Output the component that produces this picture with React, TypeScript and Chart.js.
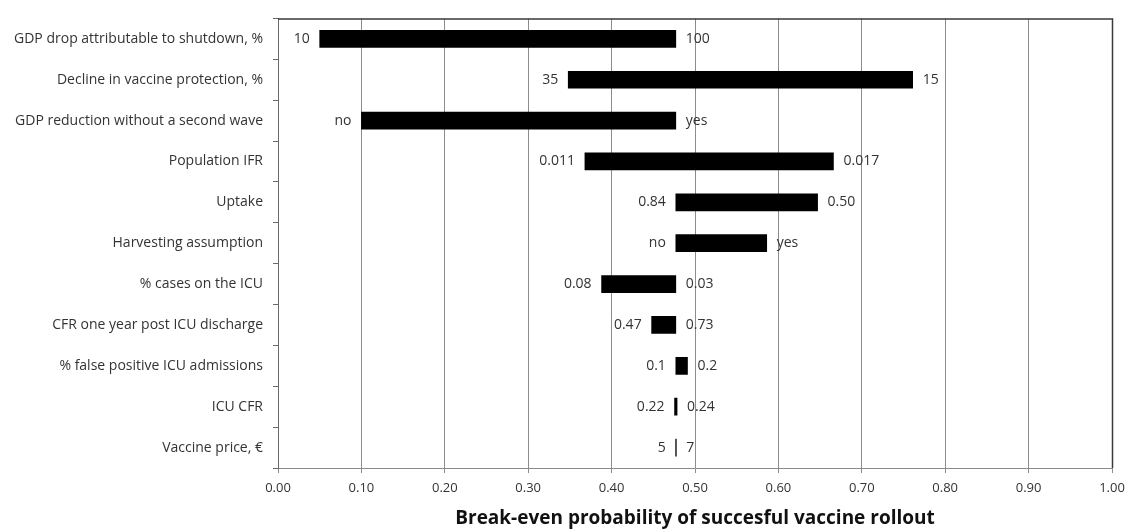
import React, { useEffect, useRef } from "react";
import { Chart, registerables } from "chart.js";

Chart.register(...registerables);

const categories = [
  "GDP drop attributable to shutdown, %",
  "Decline in vaccine protection, %",
  "GDP reduction without a second wave",
  "Population IFR",
  "Uptake",
  "Harvesting assumption",
  "% cases on the ICU",
  "CFR one year post ICU discharge",
  "% false positive ICU admissions",
  "ICU CFR",
  "Vaccine price, €",
];
const lowValues = [0.05, 0.348, 0.1, 0.368, 0.477, 0.477, 0.388, 0.448, 0.477, 0.4755, 0.4768];
const highValues = [0.477, 0.761, 0.477, 0.666, 0.647, 0.586, 0.477, 0.477, 0.491, 0.4785, 0.4776];
const leftLabels = ["10", "35", "no", "0.011", "0.84", "no", "0.08", "0.47", "0.1", "0.22", "5"];
const rightLabels = ["100", "15", "yes", "0.017", "0.50", "yes", "0.03", "0.73", "0.2", "0.24", "7"];
const xTicks = [0, 0.1, 0.2, 0.3, 0.4, 0.5, 0.6, 0.7, 0.8, 0.9, 1.0];
const xTitle = "Break-even probability of succesful vaccine rollout";

const FONT = "'Open Sans', 'Noto Sans', sans-serif";

const labelPlugin = {
  id: "endLabels",
  afterDatasetsDraw(chart: any) {
    const ctx = chart.ctx;
    const meta = chart.getDatasetMeta(0);
    const xs = chart.scales.x;
    ctx.save();
    ctx.font = `14px ${FONT}`;
    ctx.fillStyle = "#333";
    ctx.textBaseline = "middle";
    meta.data.forEach((bar: any, i: number) => {
      const y = bar.y;
      const xl = xs.getPixelForValue(lowValues[i]);
      const xr = xs.getPixelForValue(highValues[i]);
      ctx.textAlign = "right";
      ctx.fillText(leftLabels[i], xl - 10, y);
      ctx.textAlign = "left";
      ctx.fillText(rightLabels[i], xr + 10, y);
    });
    ctx.restore();
  },
  afterDraw(chart: any) {
    const { ctx, chartArea } = chart;
    ctx.save();
    ctx.strokeStyle = "#3a3a3a";
    ctx.lineWidth = 1.5;
    ctx.beginPath();
    ctx.moveTo(chartArea.left, chartArea.top + 0.5);
    ctx.lineTo(chartArea.right + 0.5, chartArea.top + 0.5);
    ctx.lineTo(chartArea.right + 0.5, chartArea.bottom);
    ctx.stroke();
    ctx.restore();
  },
};

export default function App() {
  const ref = useRef<HTMLCanvasElement>(null);
  useEffect(() => {
    document.body.style.margin = "0";
    const chart = new Chart(ref.current!, {
      type: "bar",
      data: {
        labels: categories,
        datasets: [
          {
            data: lowValues.map((v, i) => [v, highValues[i]]),
            backgroundColor: "#000",
            borderWidth: 0,
            barThickness: 17,
          },
        ],
      },
      options: {
        indexAxis: "y",
        animation: false,
        responsive: false,
        layout: { padding: { top: 13, right: 16, left: 0, bottom: 0 } },
        plugins: { legend: { display: false }, tooltip: { enabled: false } },
        scales: {
          x: {
            min: 0,
            max: 1,
            afterBuildTicks: (s: any) => {
              s.ticks = xTicks.map((v) => ({ value: v }));
            },
            afterFit: (s: any) => {
              s.height = 64;
              s.paddingRight = 0;
              s.paddingLeft = 0;
            },
            border: { color: "#8a8a8a", width: 1 },
            grid: { color: "#8c8c8c", lineWidth: 1, tickLength: 5, tickColor: "#8c8c8c" },
            ticks: {
              font: { family: FONT, size: 13 },
              color: "#333",
              padding: 7,
              callback: (v: any) => Number(v).toFixed(2),
            },
            title: {
              display: true,
              text: xTitle,
              font: { family: FONT, size: 19, weight: "bold" },
              color: "#111",
              padding: { top: 8, bottom: 2 },
            },
          },
          y: {
            afterFit: (s: any) => {
              s.width = 278;
            },
            border: { color: "#6a6a6a", width: 1 },
            grid: {
              offset: true,
              drawOnChartArea: false,
              tickLength: 5,
              tickColor: "#6a6a6a",
            },
            ticks: {
              font: { family: FONT, size: 14 },
              color: "#333",
              padding: 10,
            },
          },
        },
      },
      plugins: [labelPlugin],
    });
    return () => chart.destroy();
  }, []);
  return <canvas ref={ref} width={1128} height={532} style={{ display: "block" }} />;
}
